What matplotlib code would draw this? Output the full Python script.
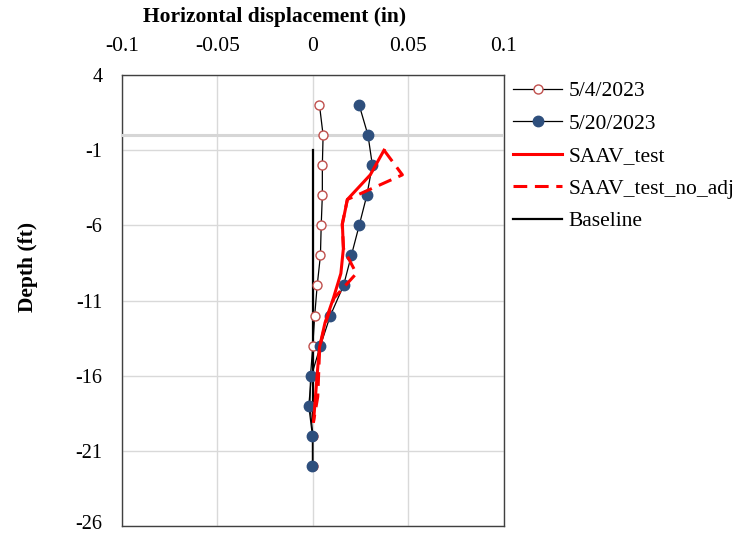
import numpy as np
import matplotlib
matplotlib.use('Agg')
import matplotlib.pyplot as plt
import matplotlib.transforms as mtransforms

plt.rcParams['font.family'] = ['Liberation Serif', 'DejaVu Serif']
plt.rcParams['axes.unicode_minus'] = False

# survey depths (ft) and readings (in)
depth = [2, 0, -2, -4, -6, -8, -10, -12, -14, -16, -18, -20, -22]
disp_0504 = [0.0034, 0.0053, 0.0049, 0.0049, 0.0043, 0.0039, 0.0022,
             0.0009, -0.0001, -0.0013, -0.0016, 0.0, 0.0]
disp_0520 = [0.0242, 0.0288, 0.0311, 0.0282, 0.0242, 0.0201, 0.0160,
             0.0091, 0.0039, -0.0008, -0.0022, -0.0003, -0.0003]

# SAAV segments
saav_depth = [-1.0, -2.64, -4.28, -5.92, -7.56, -9.2, -10.84, -12.48,
              -14.12, -15.76, -17.4, -19.04]
saav_test = [0.0372, 0.0300, 0.0180, 0.0154, 0.0159, 0.0146, 0.0107,
             0.0063, 0.0034, 0.0023, 0.0013, 0.0003]
saav_no_adj = [0.0372, 0.0468, 0.0180, 0.0153, 0.0160, 0.0227, 0.0110,
               0.0066, 0.0035, 0.0030, 0.0025, 0.0003]
baseline = [0.0] * len(saav_depth)

x_ticks = [-0.1, -0.05, 0, 0.05, 0.1]
x_labels = ['-0.1', '-0.05', '0', '0.05', '0.1']
y_ticks = [4, -1, -6, -11, -16, -21, -26]

fig = plt.figure(figsize=(7.55, 5.36), dpi=100)
ax = fig.add_axes([0.1616, 0.0187, 0.5059, 0.8413])

ax.plot(disp_0504, depth, color='black', lw=0.9, marker='o', ms=6.5,
        mfc='white', mec='#C0504D', mew=1.0, label='5/4/2023', zorder=4)
ax.plot(disp_0520, depth, color='black', lw=0.9, marker='o', ms=7.5,
        mfc='#2E4F7D', mec='#2E4F7D', label='5/20/2023', zorder=4)
ax.plot(saav_test, saav_depth, color='#FF0000', lw=2.2, label='SAAV_test', zorder=5)
ax.plot(saav_no_adj, saav_depth, color='#FF0000', lw=2.2, dashes=(4.5, 2.5),
        label='SAAV_test_no_adj', zorder=5)
ax.plot(baseline, saav_depth, color='black', lw=1.6, label='Baseline', zorder=3)

# ground surface line
ax.axhline(0, color='#D6D6D6', lw=2.2, zorder=3)

ax.set_xlim(-0.1, 0.1)
ax.set_ylim(-26, 4)
ax.set_xticks(x_ticks)
ax.set_xticklabels(x_labels)
ax.set_yticks(y_ticks)
ax.xaxis.tick_top()
ax.xaxis.set_label_position('top')
ax.tick_params(length=0)
ax.tick_params(axis='x', labelsize=15.5, pad=14)
ax.tick_params(axis='y', labelsize=14.5, pad=14)
ax.grid(True, color='#D9D9D9', lw=1.0)
ax.set_axisbelow(True)
for s in ax.spines.values():
    s.set_color('#404040')
    s.set_linewidth(1.0)

# nudge the bottom tick label up so it stays inside the figure
lbl = ax.get_yticklabels()[-1]
lbl.set_transform(lbl.get_transform() +
                  mtransforms.ScaledTranslation(0, 3 / 72, fig.dpi_scale_trans))

ax.set_xlabel('Horizontal displacement (in)', fontsize=15.5, fontweight='bold')
ax.xaxis.set_label_coords(0.4, 1.118)
ax.set_ylabel('Depth (ft)', fontsize=15.5, fontweight='bold')
ax.yaxis.set_label_coords(-0.22, 0.575)

fig.legend(loc='upper left', bbox_to_anchor=(0.668, 0.865), frameon=False,
           fontsize=15.5, handlelength=2.3, handletextpad=0.3, labelspacing=0.58,
           borderaxespad=0)

fig.savefig('out.png', dpi=100)
